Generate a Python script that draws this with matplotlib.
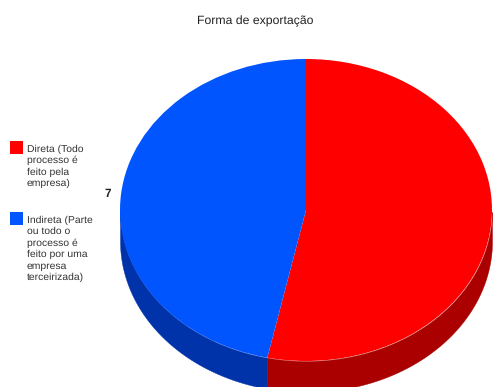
import numpy as np
import matplotlib
matplotlib.use('Agg')
import matplotlib.pyplot as plt
from matplotlib.patches import Rectangle

plt.rcParams['font.family'] = ['Liberation Sans', 'DejaVu Sans']
plt.rcParams['text.hinting'] = 'no_hinting'

title = 'Forma de exportação'
labels = [['Direta (Todo', 'processo é', 'feito pela', 'empresa)'],
          ['Indireta (Parte', 'ou todo o', 'processo é', 'feito por uma', 'empresa', 'terceirizada)']]
values = [8, 7]
top_colors = ['#ff0000', '#0055ff']
side_colors = ['#aa0000', '#0033aa']

W, H = 500, 387
CX, CY = 306, 210      # pie centre in pixels
RX, RY = 186, 151      # ellipse radii in pixels
DEPTH = 31 / RY        # height of the cylinder wall


def draw_side(ax, values, colors):
    # Wall of the cylinder: only the part of each slice on the front half shows
    fractions = np.array(values) / sum(values)
    stops = 90 - 360 * np.concatenate([[0], np.cumsum(fractions)])
    for i, color in enumerate(colors):
        end, start = stops[i], stops[i + 1]
        t = np.radians(np.linspace(start, end, 200))
        t = t[np.sin(t) <= 0]
        if len(t) == 0:
            continue
        ax.fill_between(np.cos(t), np.sin(t), np.sin(t) - DEPTH,
                        color=color, linewidth=0.3, zorder=1)


def draw_legend(fig, labels, colors):
    # Legend built by hand so the swatch lines up with the first text line
    y = 141
    for lines, color in zip(labels, colors):
        fig.add_artist(Rectangle((10 / W, 1 - (y + 12.5) / H), 12.5 / W, 12.5 / H,
                                 transform=fig.transFigure, color=color, linewidth=0))
        for i, line in enumerate(lines):
            fig.text(27 / W, 1 - (y + 11 + i * 11.4) / H, line, fontsize=7.5,
                     color='#333333', ha='left', va='baseline')
        y += 71


fig = plt.figure(figsize=(W / 100, H / 100), dpi=100)
ax = fig.add_axes([0, 0, 1, 1])

draw_side(ax, values, side_colors)
ax.pie(values, colors=top_colors, startangle=90, counterclock=False,
       radius=1, wedgeprops={'zorder': 2, 'linewidth': 0})

# one data unit is one radius, so the circle becomes a flattened ellipse
ax.set_xlim(-CX / RX, (W - CX) / RX)
ax.set_ylim((CY - H) / RY, CY / RY)
ax.set_aspect('auto')
ax.axis('off')

fig.text(255 / W, 1 - 24 / H, title, fontsize=8.8, color='#222222',
         ha='center', va='baseline')

# value label for the blue slice; the red one falls outside the canvas
ax.text((108 - CX) / RX, (CY - 193.5) / RY, str(values[1]), fontsize=8.5, fontweight='bold',
        color='#222222', ha='center', va='center')

draw_legend(fig, labels, top_colors)

fig.savefig('out.png', dpi=100)
